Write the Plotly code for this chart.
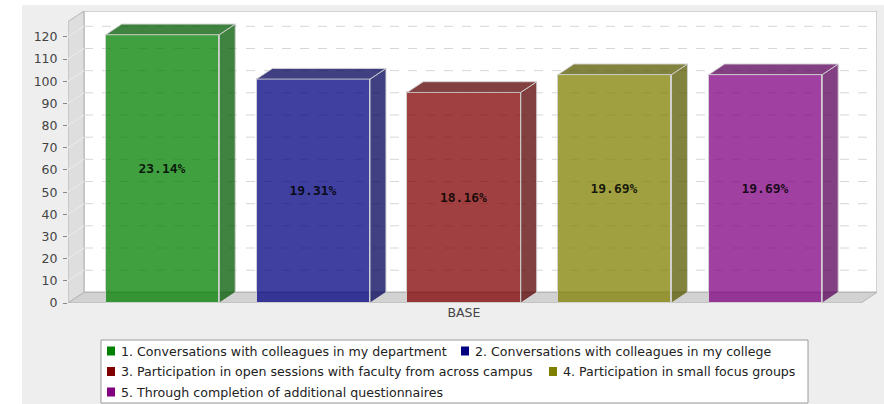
import plotly.graph_objects as go

# ---------------- data ----------------
series_names = [
    "1. Conversations with colleagues in my department",
    "2. Conversations with colleagues in my college",
    "3. Participation in open sessions with faculty from across campus",
    "4. Participation in small focus groups",
    "5. Through completion of additional questionnaires",
]
values = [121, 101, 95, 103, 103]
category = "BASE"
y_ticks = [0, 10, 20, 30, 40, 50, 60, 70, 80, 90, 100, 110, 120]

base_rgb = [(0, 128, 0), (0, 0, 128), (128, 0, 0), (128, 128, 0), (128, 0, 128)]

# ---------------- geometry (axis space) ----------------
X0, X1 = -0.627, 4.740      # x range (front plane starts at X0)
YMAX = 131.7                # y range top
DX, DY = 0.106, 4.8         # 3D depth offset in axis units
BW = 0.753                  # bar width
ALPHA = 0.75

total = sum(values)
pct_text = ["%.2f%%" % (v / total * 100) for v in values]

def rgba(c, a):
    return "rgba(%d,%d,%d,%s)" % (c[0], c[1], c[2], a)

def darker(c):
    return tuple(int(k * 0.7) for k in c)

OUTLINE = "rgba(210,210,210,0.95)"
FONT = "DejaVu Sans"

fig = go.Figure()

# bars: front face (Bar) + side + top faces derived from the values
for i, (name, v, c) in enumerate(zip(series_names, values, base_rgb)):
    xl, xr = i - BW / 2, i + BW / 2
    # side face
    fig.add_trace(go.Scatter(
        x=[xr, xr + DX, xr + DX, xr, xr],
        y=[0, DY, v + DY, v, 0],
        fill="toself", mode="lines",
        fillcolor=rgba(darker(c), ALPHA),
        line=dict(color=OUTLINE, width=1),
        showlegend=False, hoverinfo="skip"))
    # top face
    fig.add_trace(go.Scatter(
        x=[xl, xr, xr + DX, xl + DX, xl],
        y=[v, v, v + DY, v + DY, v],
        fill="toself", mode="lines",
        fillcolor=rgba(darker(c), ALPHA),
        line=dict(color=OUTLINE, width=1),
        showlegend=False, hoverinfo="skip"))
    # front face
    fig.add_trace(go.Bar(
        x=[i], y=[v], width=BW, name=name,
        marker=dict(color=rgba(c, ALPHA), line=dict(color=OUTLINE, width=1)),
        text=[pct_text[i]], textposition="inside", insidetextanchor="middle",
        textangle=0,
        textfont=dict(family="DejaVu Sans Mono", size=13, weight="bold",
                      color="rgba(0,0,0,0.85)"),
        showlegend=False, hoverinfo="skip"))

shapes = []
# back wall
shapes.append(dict(type="rect", xref="x", yref="y", x0=X0 + DX, x1=X1, y0=DY, y1=YMAX,
                   fillcolor="white", line=dict(color="#c4c4c4", width=1.5), layer="below"))
# left wall
shapes.append(dict(type="path", xref="x", yref="y",
                   path="M %f,%f L %f,%f L %f,%f L %f,%f Z" % (X0, 0, X0 + DX, DY, X0 + DX, YMAX, X0, YMAX - DY),
                   fillcolor="#dedede", line=dict(color="#b4b4b4", width=1), layer="below"))
# gridlines on walls
for t in y_ticks[1:]:
    shapes.append(dict(type="line", xref="x", yref="y", x0=X0 + DX, x1=X1, y0=t + DY, y1=t + DY,
                       line=dict(color="#d6d6d6", width=1, dash="dash"), layer="below"))
    shapes.append(dict(type="line", xref="x", yref="y", x0=X0, x1=X0 + DX, y0=t, y1=t + DY,
                       line=dict(color="#ececec", width=1), layer="below"))
# floor
shapes.append(dict(type="path", xref="x", yref="y",
                   path="M %f,%f L %f,%f L %f,%f L %f,%f Z" % (X0, 0, X1 - DX, 0, X1, DY, X0 + DX, DY),
                   fillcolor="#d2d2d2", line=dict(color="#b4b4b4", width=1), layer="below"))

# ---------------- page / legend layout (pixel helpers) ----------------
ML, MR, MT, MB = 68, 7, 11, 101
W, H = 884, 404
PW, PH = W - ML - MR, H - MT - MB

def px(xp):
    return (xp - ML) / PW

def py(yp):
    return (H - MB - yp) / PH

# white page margins outside the grey chart background
shapes.append(dict(type="rect", xref="paper", yref="paper", x0=px(-5), x1=px(22), y0=py(410), y1=py(-5),
                   fillcolor="white", line=dict(width=0), layer="below"))
shapes.append(dict(type="rect", xref="paper", yref="paper", x0=px(-5), x1=px(890), y0=py(5), y1=py(-5),
                   fillcolor="white", line=dict(width=0), layer="below"))

# legend box
shapes.append(dict(type="rect", xref="paper", yref="paper", x0=px(101), x1=px(808), y0=py(403), y1=py(340),
                   fillcolor="white", line=dict(color="#9a9a9a", width=1), layer="above"))

legend_pos = [(107, 351), (461, 351), (107, 371.5), (549, 371.5), (107, 392)]
annotations = []
for (sx, sy), name, c in zip(legend_pos, series_names, base_rgb):
    shapes.append(dict(type="rect", xref="paper", yref="paper",
                       x0=px(sx), x1=px(sx + 8), y0=py(sy + 4.5), y1=py(sy - 4.5),
                       fillcolor=rgba(c, 1), line=dict(width=0), layer="above"))
    annotations.append(dict(xref="paper", yref="paper", x=px(sx + 12), y=py(sy),
                            xanchor="left", yanchor="middle", showarrow=False,
                            text=name, font=dict(family=FONT, size=12.6, color="#222222")))

fig.update_layout(
    width=W, height=H,
    margin=dict(l=ML, r=MR, t=MT, b=MB, autoexpand=False),
    paper_bgcolor="#eeeeee", plot_bgcolor="rgba(0,0,0,0)",
    showlegend=False,
    shapes=shapes, annotations=annotations,
    xaxis=dict(range=[X0, X1], tickmode="array", tickvals=[2], ticktext=[category],
               showgrid=False, zeroline=False, showline=False, ticks="",
               tickfont=dict(family=FONT, size=12.5, color="#444444"), fixedrange=True),
    yaxis=dict(range=[0, YMAX], tickmode="array", tickvals=y_ticks,
               ticktext=[str(t) for t in y_ticks],
               showgrid=False, zeroline=False, showline=False,
               ticks="outside", ticklen=4, tickcolor="#888888", ticklabelstandoff=3,
               tickfont=dict(family=FONT, size=12.5, color="#444444"), fixedrange=True),
    bargap=0, barmode="overlay",
)

fig.write_html("out.html", config={"displayModeBar": False},
               post_script="document.body.style.margin='0';document.body.style.overflow='hidden';")
